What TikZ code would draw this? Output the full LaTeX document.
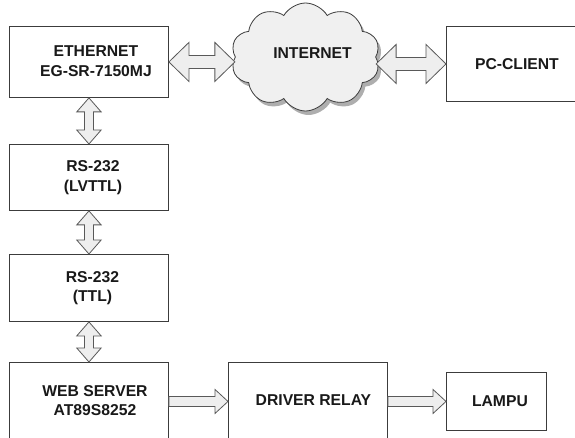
\documentclass[tikz,border=0pt]{standalone}
\usepackage{fontspec}
\setmainfont{Liberation Sans}
\usetikzlibrary{shapes.symbols,shadows,calc}
\definecolor{edge}{HTML}{3C3C3C}
\definecolor{arrfill}{HTML}{EEEEEE}
\definecolor{cloudfill}{HTML}{F0F0F0}
\tikzset{
  box/.style={draw=edge, line width=0.9pt, fill=white, rectangle, inner sep=0pt, anchor=north west},
  lbl/.style={align=center, inner sep=0pt, font=\fontsize{15.7pt}{19.5pt}\selectfont\bfseries, text=black!90},
  arrowshape/.style={draw=edge!85, line width=0.8pt, fill=arrfill, line join=miter},
}
% horizontal double arrow: from, to, head length, head half width, shaft half width
\newcommand{\HDbl}[5]{%
  \draw[arrowshape] let \p1=(#1), \p2=(#2) in
    (\x1,\y1) -- (\x1+#3,\y1+#4) -- (\x1+#3,\y1+#5) -- (\x2-#3,\y2+#5) -- (\x2-#3,\y2+#4)
    -- (\x2,\y2) -- (\x2-#3,\y2-#4) -- (\x2-#3,\y2-#5) -- (\x1+#3,\y1-#5) -- (\x1+#3,\y1-#4) -- cycle;}
% vertical double arrow: top, bottom, head length, head half width, shaft half width
\newcommand{\VDbl}[5]{%
  \draw[arrowshape] let \p1=(#1), \p2=(#2) in
    (\x1,\y1) -- (\x1+#4,\y1-#3) -- (\x1+#5,\y1-#3) -- (\x2+#5,\y2+#3) -- (\x2+#4,\y2+#3)
    -- (\x2,\y2) -- (\x2-#4,\y2+#3) -- (\x2-#5,\y2+#3) -- (\x1-#5,\y1-#3) -- (\x1-#4,\y1-#3) -- cycle;}
% horizontal single arrow
\newcommand{\HSgl}[5]{%
  \draw[arrowshape] let \p1=(#1), \p2=(#2) in
    (\x1,\y1+#5) -- (\x2-#3,\y1+#5) -- (\x2-#3,\y1+#4) -- (\x2,\y2)
    -- (\x2-#3,\y1-#4) -- (\x2-#3,\y1-#5) -- (\x1,\y1-#5) -- cycle;}
\begin{document}
\begin{tikzpicture}[x=1pt,y=-1pt]
\useasboundingbox (0,0) rectangle (575,438);
\clip (0,0) rectangle (575,438);
\fill[white] (0,0) rectangle (575,438);

% boxes
\node[box, minimum width=159pt, minimum height=71pt] (eth) at (9,26) {};
\node[box, minimum width=159pt, minimum height=66pt] (lvttl) at (9,144) {};
\node[box, minimum width=159pt, minimum height=67pt] (ttl) at (9,254) {};
\node[box, minimum width=159pt, minimum height=78pt] (web) at (9,362) {};
\node[box, minimum width=159pt, minimum height=78pt] (drv) at (228,362) {};
\node[box, minimum width=100pt, minimum height=58pt] (lampu) at (446,372) {};
\node[box, minimum width=142pt, minimum height=75pt] (pc) at (446,26) {};

% cloud
\node[cloud, cloud puffs=10, cloud puff arc=120, aspect=1.3, draw=edge, line width=0.8pt,
      fill=cloudfill, minimum width=149pt, minimum height=108pt, inner sep=0pt,
      drop shadow={shadow xshift=3pt, shadow yshift=-4pt, fill=black!45, opacity=0.7}]
      (cloud) at (305.5,57) {};

% labels
\node[lbl] (ethtxt) at ($(eth.center)+(7,-1)$) {ETHERNET\\EG-SR-7150MJ};
\node[lbl] (lvtxt) at ($(lvttl.center)+(4,0)$) {RS-232\\(LVTTL)};
\node[lbl] (ttltxt) at ($(ttl.center)+(3.5,0)$) {RS-232\\(TTL)};
\node[lbl] (webtxt) at ($(web.center)+(6,-1)$) {WEB SERVER\\AT89S8252};
\node[lbl] (drvtxt) at ($(drv.center)+(5.5,-1)$) {DRIVER RELAY};
\node[lbl] (lamtxt) at ($(lampu.center)+(3.5,0)$) {LAMPU};
\node[lbl] (pctxt) at ($(pc.center)+(-0.5,0)$) {PC-CLIENT};
\node[lbl] (nettxt) at ($(cloud.center)+(7,-4)$) {INTERNET};

% connectors
\HDbl{eth.east}{cloud.west |- eth.east}{20pt}{19.5pt}{6.5pt}
\HDbl{cloud.east |- pc.west}{pc.west}{20pt}{19.5pt}{6.5pt}
\VDbl{eth.south}{lvttl.north}{14pt}{12.2pt}{4.5pt}
\VDbl{lvttl.south}{ttl.north}{14pt}{12.2pt}{4.5pt}
\VDbl{ttl.south}{web.north}{14pt}{12.2pt}{4.5pt}
\HSgl{web.east |- drv.center}{drv.west |- drv.center}{13pt}{12pt}{5pt}
\HSgl{drv.east |- lampu.west}{lampu.west}{13pt}{12pt}{5pt}
\end{tikzpicture}
\end{document}
